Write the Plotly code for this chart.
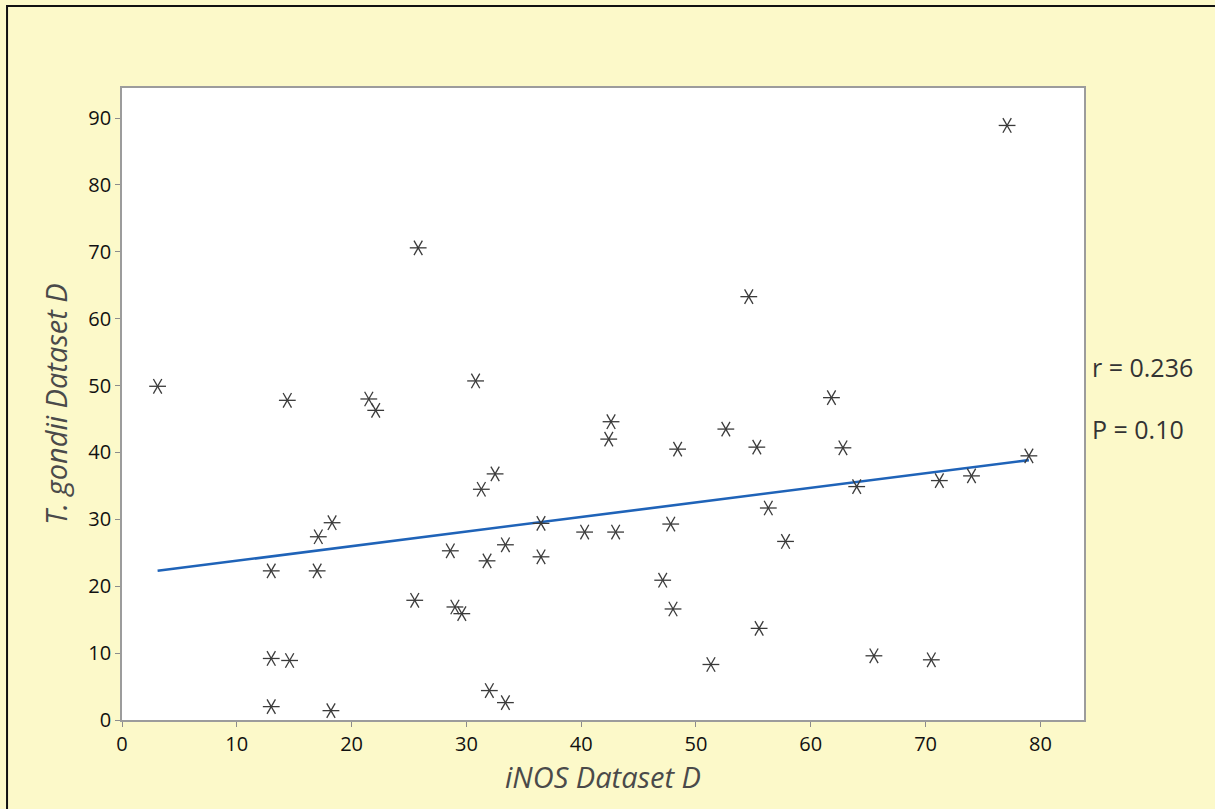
import numpy as np
import plotly.graph_objects as go

# iNOS (x) vs T. gondii (y), Dataset D
inos = [3.1, 13.0, 13.0, 13.0, 14.4, 14.6, 17.1, 17.0, 18.3, 18.2,
        21.5, 22.1, 25.8, 25.5, 28.6, 29.0, 29.6, 30.8, 31.3, 31.8,
        32.0, 32.5, 33.4, 33.4, 36.5, 36.5, 40.3, 42.4, 42.6, 43.0,
        47.1, 47.8, 48.0, 48.4, 51.3, 52.6, 54.6, 55.3, 55.5, 56.3,
        57.8, 61.8, 62.8, 64.0, 65.5, 70.5, 71.2, 74.0, 77.1, 79.0]
tgondii = [49.9, 22.3, 9.2, 2.0, 47.8, 8.9, 27.4, 22.3, 29.5, 1.4,
           48.0, 46.3, 70.6, 17.9, 25.3, 16.9, 15.9, 50.7, 34.5, 23.8,
           4.4, 36.8, 26.2, 2.6, 29.4, 24.4, 28.1, 42.0, 44.6, 28.1,
           20.9, 29.3, 16.6, 40.5, 8.3, 43.5, 63.3, 40.8, 13.7, 31.7,
           26.7, 48.2, 40.7, 34.9, 9.6, 9.0, 35.8, 36.5, 88.9, 39.5]

x_ticks = [0, 10, 20, 30, 40, 50, 60, 70, 80]
y_ticks = [0, 10, 20, 30, 40, 50, 60, 70, 80, 90]

stats_text = ["r = 0.236", "P = 0.10"]

# least-squares fit line across the observed x span
slope, intercept = np.polyfit(inos, tgondii, 1)
fit_x = [min(inos), max(inos)]
fit_y = [slope * v + intercept for v in fit_x]

BG = "#FCF9C9"
INK = "#3a3a3a"

fig = go.Figure()

fig.add_trace(go.Scatter(
    x=fit_x, y=fit_y, mode="lines",
    line=dict(color="#1F63B8", width=2.6),
    hoverinfo="skip", showlegend=False,
))

# six-armed asterisk: three rotated bars per point
for ang in (0, 60, -60):
    fig.add_trace(go.Scatter(
        x=inos, y=tgondii, mode="markers",
        marker=dict(symbol="line-ew-open", size=12, angle=ang, color=INK,
                    line=dict(color=INK, width=1.3)),
        showlegend=False,
    ))

axis_common = dict(
    showgrid=False, zeroline=False,
    showline=True, linecolor="#9c9c9c", linewidth=1.6, mirror=True,
    ticks="outside", ticklen=5, tickwidth=1, tickcolor="#8c8c8c",
    tickfont=dict(family="Open Sans", size=20, color="#111111"),
)

fig.update_xaxes(
    range=[0, 83.8], tickvals=x_ticks,
    title=dict(text="<i>iNOS Dataset D</i>", standoff=12,
               font=dict(family="Open Sans", size=29, color="#4a4a4a")),
    **axis_common,
)
fig.update_yaxes(
    range=[0, 94.5], tickvals=y_ticks,
    title=dict(text="<i>T. gondii Dataset D</i>", standoff=12,
               font=dict(family="Open Sans", size=29, color="#4a4a4a")),
    **axis_common,
)

for i, txt in enumerate(stats_text):
    fig.add_annotation(
        text=txt, xref="paper", yref="paper",
        x=1.006, y=0.558 - i * 0.097, xanchor="left", yanchor="middle",
        showarrow=False,
        font=dict(family="Open Sans", size=25, color="#333333"),
    )

# outer frame around the whole figure (top and left edges visible)
fig.add_shape(
    type="rect", xref="paper", yref="paper",
    x0=-0.1195, x1=1.2, y0=-0.3, y1=1.1297,
    line=dict(color="#111111", width=2), fillcolor="rgba(0,0,0,0)",
    layer="above",
)

fig.update_layout(
    width=1215, height=809,
    margin=dict(l=122, r=131, t=88, b=89),
    paper_bgcolor=BG, plot_bgcolor="white",
    showlegend=False,
)

fig.write_html("out.html")
